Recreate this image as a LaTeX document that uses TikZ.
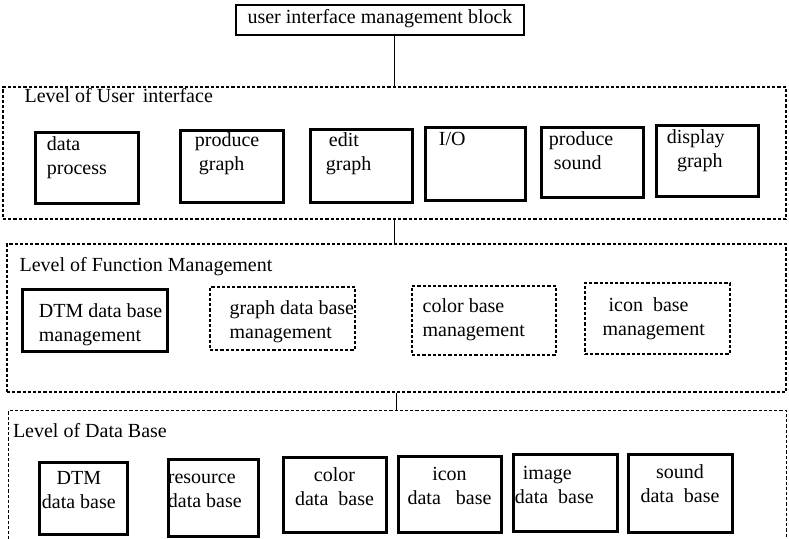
\documentclass[tikz,border=0pt]{standalone}
\usepackage{fontspec}
\setmainfont{Liberation Serif}
\usetikzlibrary{fit,positioning}

% lines of a box text, first baseline on top
\newcommand{\boxlines}[2][l]{\begin{tabular}[t]{@{}#1@{}}#2\end{tabular}}

\begin{document}
\begin{tikzpicture}[
		x=0.5pt, y=-0.5pt,
		solidbox/.style={
			draw,
			line width=1.5pt,
			inner sep=0pt,
		},
		dotbox/.style={
			draw,
			line width=0.75pt,
			dash pattern=on 1.6pt off 1pt,
			inner sep=0pt,
		},
		panel/.style={
			line width=0.75pt,
			dash pattern=on 1.6pt off 1pt,
		},
		boxtext/.style={
			inner sep=0pt,
			anchor=base west,
		},
		title/.style={
			inner sep=0pt,
			anchor=base west,
		},
		link/.style={
			line width=0.8pt,
		},
		]
		\useasboundingbox (0,0) rectangle (789,539);
		
		% top block
		\node[solidbox, line width=1.3pt, fit={(236,5) (524,35)},
			label={[inner sep=0pt, anchor=center, yshift=0.5pt]center:user interface management block}] (uimb) {};
		
		% panels
		\node[draw, panel, inner sep=0pt, fit={(3,87) (786,219)}] (uipanel) {};
		\node[draw, panel, inner sep=0pt, fit={(7,244) (786,392)}] (fmpanel) {};
		\node[inner sep=0pt, fit={(9,411) (786,539)}] (dbpanel) {};
		\draw[panel] (dbpanel.south west) |- (dbpanel.north east) -- (dbpanel.south east);
		
		\node[title] (uititle) at ([shift={(22,16)}]uipanel.north west) {Level of User\, interface};
		\node[title] (fmtitle) at ([shift={(13,28)}]fmpanel.north west) {Level of Function Management};
		\node[title] (dbtitle) at ([shift={(4,27)}]dbpanel.north west) {Level of Data Base};
		
		% Level of User interface
		\node[solidbox, fit={(35,133) (138,204)},
			label={[boxtext, xshift=6.5pt, yshift=-9.5pt]north west:\boxlines{data\\process}}] (dataproc) {};
		\node[solidbox, fit={(180,131) (283,203)},
			label={[boxtext, xshift=8pt, yshift=-8.5pt]north west:\boxlines{produce\\\hspace{2pt}graph}}] (prodgraph) {};
		\node[solidbox, fit={(310,130) (412,203)},
			label={[boxtext, xshift=8.5pt, yshift=-9pt]north west:\boxlines{\hspace{1.5pt}edit\\graph}}] (editgraph) {};
		\node[solidbox, fit={(425,128) (525,201)},
			label={[boxtext, xshift=7.5pt, yshift=-9.5pt]north west:\boxlines{I/O}}] (io) {};
		\node[solidbox, fit={(541,128) (643,198)},
			label={[boxtext, xshift=4.5pt, yshift=-9.5pt]north west:\boxlines{produce\\\hspace{2.5pt}sound}}] (prodsound) {};
		\node[solidbox, fit={(656,126) (758,197)},
			label={[boxtext, xshift=6pt, yshift=-9.5pt]north west:\boxlines[c]{display\\\hspace{4pt}graph}}] (dispgraph) {};
		
		% Level of Function Management
		\node[solidbox, fit={(22,290) (167,352)},
			label={[boxtext, xshift=9pt, yshift=-14.5pt]north west:\boxlines{DTM data base\\management}}] (dtmman) {};
		\node[dotbox, fit={(210,287) (355,350)},
			label={[boxtext, xshift=10pt, yshift=-14pt]north west:\boxlines{graph data base\\management}}] (graphman) {};
		\node[dotbox, fit={(412,286) (556,355)},
			label={[boxtext, xshift=5.5pt, yshift=-13.5pt]north west:\boxlines{color base\\management}}] (colorman) {};
		\node[dotbox, fit={(585,283) (730,354)},
			label={[boxtext, xshift=9pt, yshift=-14.5pt]north west:\boxlines{\hspace{3pt}icon\ \ base\\management}}] (iconman) {};
		
		% Level of Data Base
		\node[solidbox, fit={(39,463) (127,535)},
			label={[boxtext, xshift=2pt, yshift=-11.5pt]north west:\boxlines[c]{DTM\\data base}}] (dtmdb) {};
		\node[solidbox, fit={(168,460) (258,537)},
			label={[boxtext, xshift=0.5pt, yshift=-12.5pt]north west:\boxlines{resource\\data base}}] (resdb) {};
		\node[solidbox, fit={(283,458) (386,533)},
			label={[boxtext, anchor=base, yshift=-12.5pt]north:\boxlines[c]{color\\data\ \ base}}] (colordb) {};
		\node[solidbox, fit={(398,457) (501,533)},
			label={[boxtext, anchor=base, yshift=-12.5pt]north:\boxlines[c]{icon\\data\ \ \ base}}] (icondb) {};
		\node[solidbox, fit={(513,455) (617,532)},
			label={[boxtext, xshift=1.5pt, yshift=-13pt]north west:\boxlines{\hspace{4pt}image\\data\ \ base}}] (imagedb) {};
		\node[solidbox, fit={(628,455) (732,533)},
			label={[boxtext, anchor=base, yshift=-12.5pt]north:\boxlines[c]{sound\\data\ \ base}}] (sounddb) {};
		
		% links between levels
		\draw[link] (uimb.south -| uipanel.north) -- (uipanel.north);
		\draw[link] (uipanel.south) -- (uipanel.south |- fmpanel.north);
		\draw[link] (fmpanel.south) -- (fmpanel.south |- dbpanel.north);
		
\end{tikzpicture}
\end{document}
